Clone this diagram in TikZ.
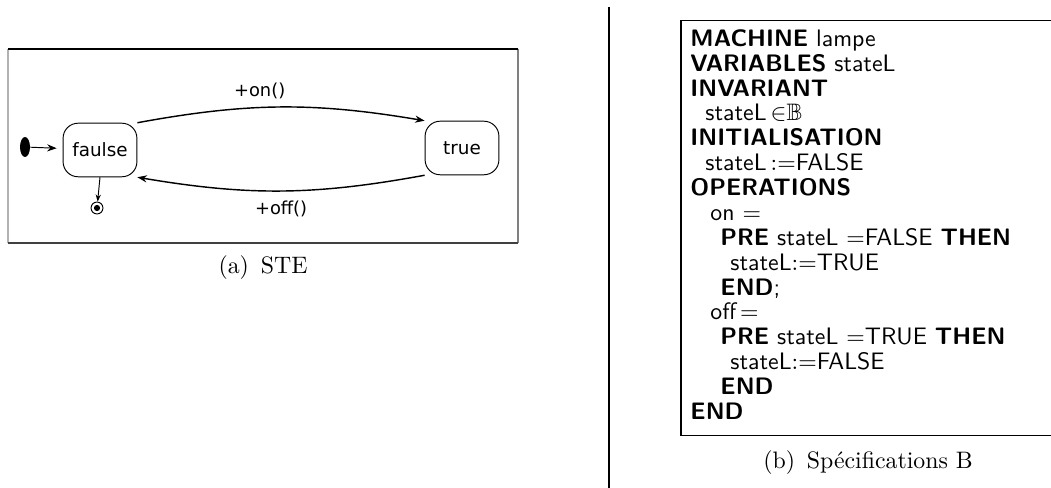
\documentclass[tikz,border=0pt]{standalone}
\usepackage{amsmath,amssymb}
\usepackage{fontspec}
\newfontfamily\stefont{DejaVu Sans}
\usetikzlibrary{arrows.meta,shapes.geometric}

\begin{document}
\begin{tikzpicture}[x=0.42pt,y=0.42pt,
        state/.style={draw,rounded corners=6.3pt,minimum width=31pt,minimum height=22.5pt,
            inner sep=0pt,font=\stefont\fontsize{7.7}{9}\selectfont},
        trans/.style={-{Stealth[length=4pt,width=3pt]},semithick},
        lbl/.style={font=\stefont\fontsize{7.5}{9}\selectfont}]
        \useasboundingbox (0,0) rectangle (1051,-488);

        % (a) STE
        \draw[gray!60,line width=0.6pt] (8,-49) -- (8,-243);
        \draw[gray,line width=0.6pt] (518,-49) -- (518,-243);
        \draw[line width=0.7pt] (8,-49) -- (518,-49);
        \draw[black!75,line width=0.7pt] (8,-243) -- (518,-243);

        \node[state] (faulse) at (100,-150) {faulse};
        \node[state] (true) at (462,-148) {true};
        \node[ellipse,fill,inner sep=0pt,minimum width=4.2pt,minimum height=8.4pt] (init) at (25,-147) {};
        \node[circle,draw,inner sep=0pt,minimum size=5pt] (fin) at (97,-208) {};
        \fill (fin) circle (1.3pt);

        \draw[trans,thin,shorten >=2.5pt] (init) -- (faulse);
        \draw[-{Stealth[length=3pt,width=2.2pt]},thin] (faulse.south) -- (fin);
        \draw[trans] (faulse.north east) to[bend left=10]
            node[lbl,above,pos=0.42] {+on()} (true.north west);
        \draw[trans] (true.south west) to[bend left=10]
            node[lbl,below=0.5pt] {+off()} (faulse.south east);

        \node (capa) at (263,-268) {(a)\enspace STE};

        % separation
        \draw[line width=0.8pt] (609,-7) -- (609,-488);

        % (b) B
        \draw[line width=0.8pt] (1060,-20.5) -- (681,-20.5) -- (681,-435.5) -- (1060,-435.5);
        \node[anchor=north west,inner sep=0pt,align=left,
            font=\sffamily\fontsize{10}{10.45}\selectfont] (spec) at (690,-29) {%
            \textbf{MACHINE} lampe\\
            \textbf{VARIABLES} stateL\\
            \textbf{INVARIANT}\\
            \hspace*{6.3pt}stateL\,${\in}\mathbb{B}$\\
            \textbf{INITIALISATION}\\
            \hspace*{6.3pt}stateL\,$:=$FALSE\\
            \textbf{OPERATIONS}\\
            \hspace*{8.4pt}on $=$\\
            \hspace*{12.6pt}\textbf{PRE} stateL $=$FALSE \textbf{THEN}\\
            \hspace*{16.8pt}stateL$:=$TRUE\\
            \hspace*{12.6pt}\textbf{END};\\
            \hspace*{8.4pt}off\,$=$\\
            \hspace*{12.6pt}\textbf{PRE} stateL $=$TRUE \textbf{THEN}\\
            \hspace*{16.8pt}stateL$:=$FALSE\\
            \hspace*{12.6pt}\textbf{END}\\
            \textbf{END}};

        \node (capb) at (868,-463) {(b)\enspace Spécifications B};
    \end{tikzpicture}
\end{document}
